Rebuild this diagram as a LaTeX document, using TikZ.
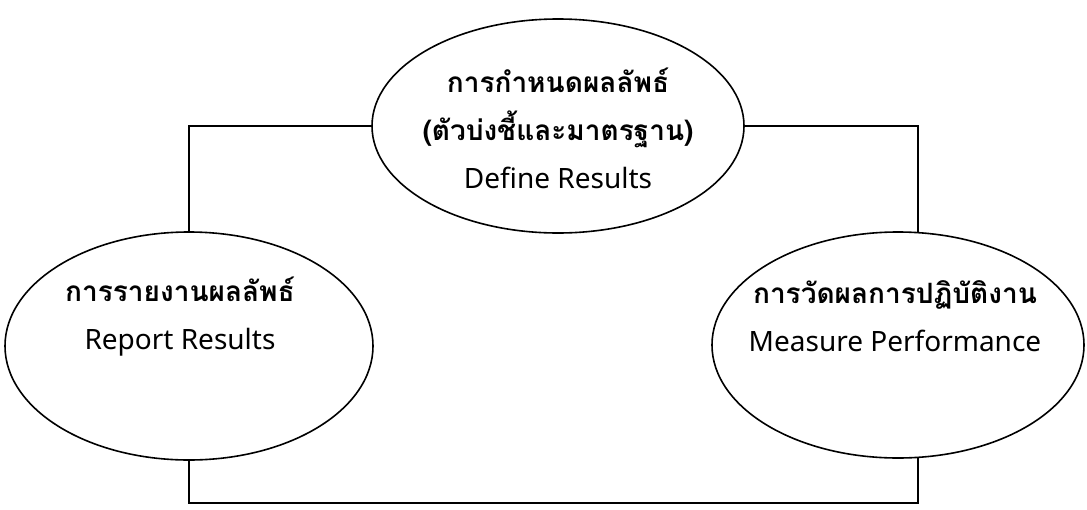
\documentclass[tikz,border=0pt]{standalone}
\usepackage{fontspec}
\setmainfont{Noto Sans}
\newfontfamily\thaifont[Script=Thai]{Loma}
\usetikzlibrary{shapes.geometric}
\usetikzlibrary{positioning}
\tikzstyle{result} = [draw, ellipse, thick, inner sep=0pt]
\tikzstyle{label} = [align=center, font=\fontsize{14}{24}\selectfont]
\tikzstyle{line} = [thick,-]

\begin{document}
\begin{tikzpicture}[x=0.5pt, y=-0.5pt]
	\useasboundingbox (0,0) rectangle (1087,509);
	
	\node [result, minimum width=186pt, minimum height=107pt] (define) at (558,126) {};
	\node [result, minimum width=184pt, minimum height=114pt] (report) at (189,346) {};
	\node [result, minimum width=186pt, minimum height=113pt] (measure) at (898,345) {};
	
	\node [coordinate] (base) at (0,503) {};
	
	\node [label] (definetext) at (558,128) {{\thaifont\bfseries การกำหนดผลลัพธ์}\\{\thaifont\bfseries (ตัวบ่งชี้และมาตรฐาน)}\\Define Results};
	\node [label] (reporttext) at (180,317) {{\thaifont\bfseries การรายงานผลลัพธ์}\\Report Results};
	\node [label] (measuretext) at (895,316) {{\thaifont\bfseries การวัดผลการปฏิบัติงาน}\\Measure Performance};
	
	\draw [line] (define.west) -| (report.north);
	\draw [line] (define.east) -| (measure.80);
	\draw [line] (measure.-80) |- (report.south |- base) -- (report.south);
	
\end{tikzpicture}
\end{document}
